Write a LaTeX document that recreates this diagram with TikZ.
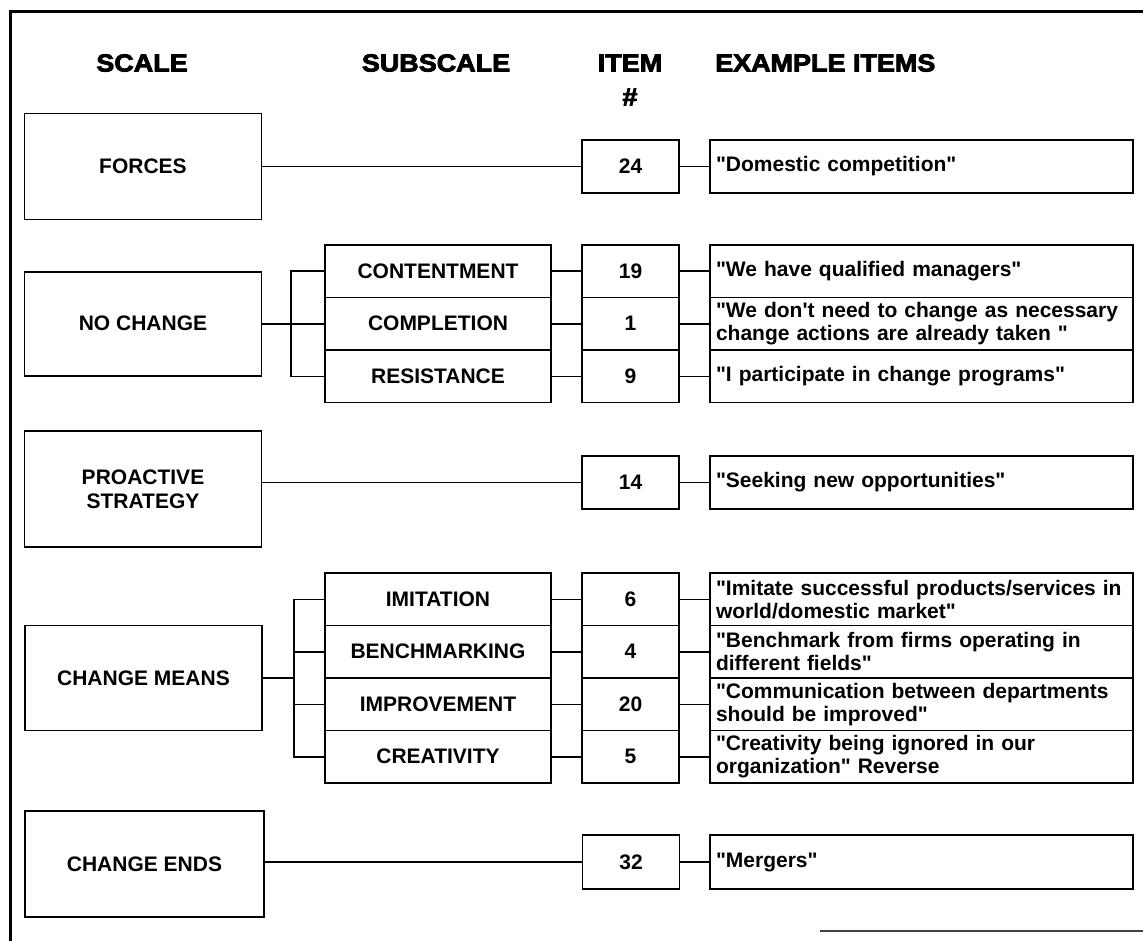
\documentclass[tikz,border=0pt]{standalone}
\usepackage{fontspec}
% plain family: keeps " and ' as straight marks
\newfontfamily\bodyfont{Liberation Sans}
\newfontfamily\headfont{Liberation Sans}[FakeBold=3.5,FakeStretch=1.1]
\newcommand\lblfont{\bodyfont\fontsize{21}{22}\selectfont\bfseries}
\newcommand\exfont{\bodyfont\fontsize{21}{23}\selectfont\bfseries}
\newcommand\hdfont{\headfont\fontsize{24.5}{26}\selectfont\bfseries}

\begin{document}
\begin{tikzpicture}[x=1pt,y=-1pt,
  frameline/.style={line width=3pt},
  anybox/.style={draw, line width=1.7pt, inner sep=0pt, font=\lblfont, align=center},
  sclbox/.style={anybox, minimum width=237pt},
  subbox/.style={anybox, minimum width=226pt, minimum height=52.5pt},
  itmbox/.style={anybox, minimum width=97pt, minimum height=52.5pt},
  exmbox/.style={draw, line width=1.7pt, inner xsep=6pt, inner ysep=0pt,
    text width=411pt, minimum height=52.5pt, align=left, font=\exfont},
  conn/.style={line width=1.5pt},
  hdr/.style={font=\hdfont, inner sep=0pt}
]
\useasboundingbox (0,0) rectangle (1143,941);

% page frame
\draw[frameline] (10,941) -- (10,12) -- (1143,12);
\draw[black!75, line width=2pt] (820,931) -- (1143,931);

% column headings
\node[hdr] (hscale) at (142,63) {SCALE};
\node[hdr] (hsub) at (436,63) {SUBSCALE};
\node[hdr] (hitem) at (630,63) {ITEM};
\node[hdr] (hnum) at (630,97) {\#};
\node[hdr, anchor=west] (hex) at (715,63) {EXAMPLE ITEMS};

% scales
\node[sclbox, minimum height=106pt] (forces) at (143,166.5) {FORCES};
\node[sclbox, minimum height=104pt] (nochange) at (143,323.75) {NO CHANGE};
\node[sclbox, minimum height=116pt, font=\bodyfont\fontsize{21}{24}\selectfont\bfseries] (proactive) at (143,489) {PROACTIVE\\STRATEGY};
\node[sclbox, minimum height=105pt] (means) at (143.5,678) {CHANGE MEANS};
\node[sclbox, minimum height=106pt, minimum width=239pt] (ends) at (144.5,864) {CHANGE ENDS};

% FORCES
\node[itmbox, minimum height=53pt] (i24) at (630.5,166.5) {24};
\node[exmbox, minimum height=53pt] (e24) at (921.5,166.5) {"Domestic competition"};
\draw[conn] (forces.east) -- (i24.west);
\draw[conn] (i24.east) -- (e24.west);

% NO CHANGE
\node[subbox] (contentment) at (438,271.25) {CONTENTMENT};
\node[subbox] (completion)  at (438,323.75) {COMPLETION};
\node[subbox] (resistance)  at (438,376.25) {RESISTANCE};
\node[itmbox] (i19) at (630.5,271.25) {19};
\node[itmbox] (i1)  at (630.5,323.75) {1};
\node[itmbox] (i9)  at (630.5,376.25) {9};
\node[exmbox] (e19) at (921.5,271.25) {"We have qualified managers"};
\node[exmbox] (e1)  at (921.5,323.75) {"We don't need to change as necessary\\change actions are already taken "};
\node[exmbox] (e9)  at (921.5,376.25) {"I participate in change programs"};
\draw[conn] (nochange.east) -- (completion.west);
\draw[conn] (contentment.west) -- ++(-33,0) |- (resistance.west);
\foreach \s/\i/\e in {contentment/i19/e19, completion/i1/e1, resistance/i9/e9}{
  \draw[conn] (\s.east) -- (\i.west);
  \draw[conn] (\i.east) -- (\e.west);
}

% PROACTIVE STRATEGY
\node[itmbox, minimum height=53pt] (i14) at (630.5,482.5) {14};
\node[exmbox, minimum height=53pt] (e14) at (921.5,482.5) {"Seeking new opportunities"};
\draw[conn] (i14.west -| proactive.east) -- (i14.west);
\draw[conn] (i14.east) -- (e14.west);

% CHANGE MEANS
\node[subbox] (imitation)    at (438,599.25) {IMITATION};
\node[subbox] (benchmarking) at (438,651.75) {BENCHMARKING};
\node[subbox] (improvement)  at (438,704.25) {IMPROVEMENT};
\node[subbox] (creativity)   at (438,756.75) {CREATIVITY};
\node[itmbox] (i6)  at (630.5,599.25) {6};
\node[itmbox] (i4)  at (630.5,651.75) {4};
\node[itmbox] (i20) at (630.5,704.25) {20};
\node[itmbox] (i5)  at (630.5,756.75) {5};
\node[exmbox] (e6)  at (921.5,599.25) {"Imitate successful products/services in\\world/domestic market"};
\node[exmbox] (e4)  at (921.5,651.75) {"Benchmark from firms operating in\\different fields"};
\node[exmbox] (e20) at (921.5,704.25) {"Communication between departments\\should be improved"};
\node[exmbox] (e5)  at (921.5,756.75) {"Creativity being ignored in our\\organization" Reverse};
\coordinate (mjoin) at (294,678);
\draw[conn] (means.east) -- (mjoin);
\draw[conn] (imitation.west) -- (imitation.west -| mjoin) -- (creativity.west -| mjoin) -- (creativity.west);
\draw[conn] (benchmarking.west) -- (benchmarking.west -| mjoin);
\draw[conn] (improvement.west) -- (improvement.west -| mjoin);
\foreach \s/\i/\e in {imitation/i6/e6, benchmarking/i4/e4, improvement/i20/e20, creativity/i5/e5}{
  \draw[conn] (\s.east) -- (\i.west);
  \draw[conn] (\i.east) -- (\e.west);
}

% CHANGE ENDS
\node[itmbox, minimum height=54pt] (i32) at (631,862) {32};
\node[exmbox, minimum height=54pt] (e32) at (921.5,862) {"Mergers"};
\draw[conn] (i32.west -| ends.east) -- (i32.west);
\draw[conn] (i32.east) -- (e32.west);
\end{tikzpicture}
\end{document}
